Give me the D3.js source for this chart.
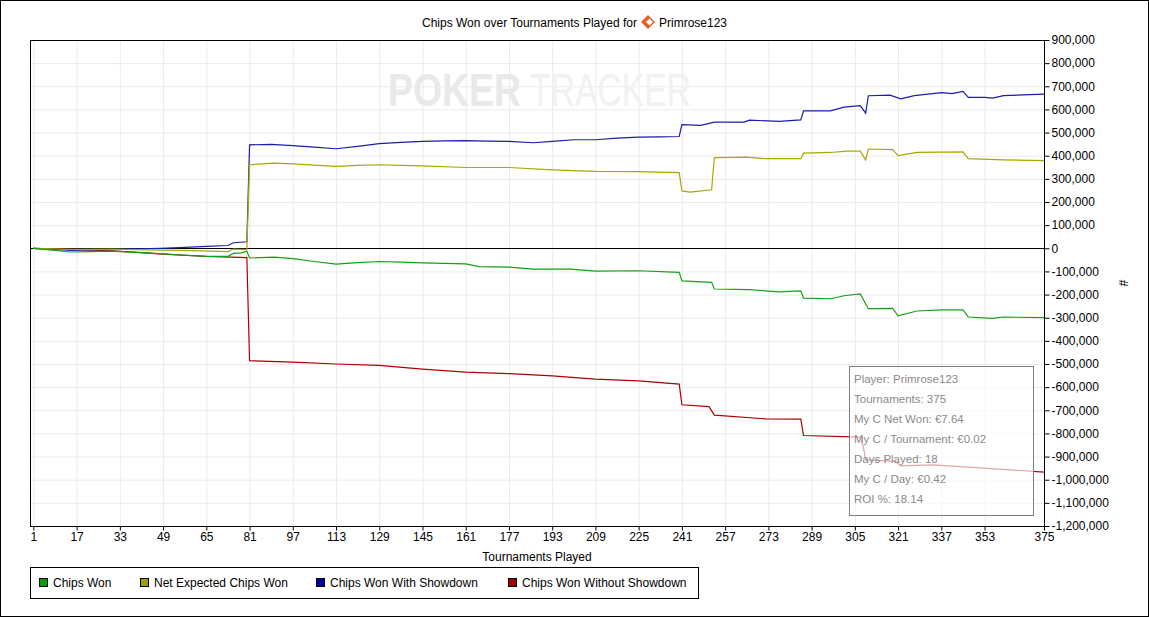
<!DOCTYPE html>
<html>
<head>
<meta charset="utf-8">
<script src="https://cdn.jsdelivr.net/npm/d3@7"></script>
<style>
  body { margin: 0; background: #fff; }
  svg text { font-family: "Liberation Sans", Arial, sans-serif; }
</style>
</head>
<body>
<div id="vis"></div>
<script>
// chart data (tournament #, chips)

const X_TICKS = [1, 17, 33, 49, 65, 81, 97, 113, 129, 145, 161, 177, 193, 209, 225, 241, 257, 273, 289, 305, 321, 337, 353, 375];
const Y_TICKS = [900000, 800000, 700000, 600000, 500000, 400000, 300000, 200000, 100000, 0,
  -100000, -200000, -300000, -400000, -500000, -600000, -700000, -800000, -900000, -1000000, -1100000, -1200000];

const SERIES_NAMES = ["Chips Won", "Net Expected Chips Won", "Chips Won With Showdown", "Chips Won Without Showdown"];

const chipsWon = [[1,0],[8,-8000],[15,-16000],[22,-14000],[29,-12000],[40,-18000],[49,-24000],[57,-30000],[65,-35000],
  [73,-35000],[75,-22000],[78,-20000],[80,-13000],[81,-42000],[90,-38000],[97,-45000],[105,-57000],[113,-68000],[121,-62000],
  [129,-57000],[137,-60000],[145,-63000],[161,-67000],[166,-79000],[177,-81000],[186,-90000],[200,-90000],[209,-99000],
  [225,-97000],[240,-104000],[241,-141000],[252,-147000],[253,-176000],[266,-179000],[277,-188000],[285,-184000],
  [286,-215000],[296,-218000],[301,-205000],[307,-197000],[310,-261000],[319,-260000],[321,-292000],[328,-271000],
  [337,-266000],[345,-266000],[347,-297000],[356,-303000],[360,-297000],[375,-300000]];

const netExpected = [[1,0],[15,-5000],[30,-4000],[49,-8000],[60,-10000],[73,-14000],[75,-4000],[80,-6000],[81,361000],
  [90,368000],[97,365000],[113,354000],[121,358000],[129,361000],[137,358000],[145,356000],[161,349000],[177,349000],
  [193,339000],[209,332000],[225,331000],[240,327000],[241,248000],[244,243000],[252,253000],[253,392000],[265,394000],
  [272,387000],[285,387000],[286,411000],[296,414000],[302,420000],[307,420000],[309,382000],[310,429000],[319,426000],
  [321,400000],[328,414000],[345,417000],[347,387000],[360,382000],[375,379000]];

const withShowdown = [[1,0],[8,-4000],[15,-9000],[25,-6000],[35,-4000],[48,0],[55,3000],[65,8000],[73,12000],[75,24000],
  [80,28000],[81,447000],[89,449000],[97,444000],[105,437000],[113,430000],[121,440000],[129,452000],[137,458000],
  [145,462000],[153,464000],[161,465000],[169,463000],[177,462000],[186,456000],[193,462000],[201,469000],[209,469000],
  [217,476000],[225,480000],[233,481000],[240,483000],[241,534000],[248,531000],[253,545000],[264,545000],[266,554000],
  [277,548000],[285,555000],[286,594000],[296,594000],[301,610000],[307,616000],[309,584000],[310,659000],[318,662000],
  [322,646000],[327,660000],[337,673000],[341,668000],[345,678000],[347,652000],[353,652000],[356,649000],[360,660000],
  [375,666000]];

const withoutShowdown = [[1,0],[15,-5000],[29,-10000],[49,-25000],[65,-35000],[80,-40000],[81,-486000],[97,-492000],
  [113,-500000],[129,-506000],[145,-522000],[161,-535000],[177,-542000],[193,-551000],[209,-565000],[225,-573000],
  [240,-587000],[241,-676000],[251,-684000],[253,-721000],[272,-737000],[285,-738000],[286,-809000],[307,-816000],
  [308,-850000],[309,-914000],[320,-921000],[322,-940000],[334,-936000],[375,-967000]];

const LINE_COLORS = ["#14a014", "#a8a800", "#1c1cad", "#ad0000"];
const SWATCH_COLORS = ["#00a000", "#a0a000", "#0000a0", "#a00000"];

const STATS = ["Player: Primrose123", "Tournaments: 375", "My C Net Won: €7.64", "My C / Tournament: €0.02",
  "Days Played: 18", "My C / Day: €0.42", "ROI %: 18.14"];

const WIDTH = 1149;
const HEIGHT = 617;
const PLOT = {left: 30, right: 1044, top: 40, bottom: 526};

const svg = d3.select("#vis").append("svg")
  .attr("width", WIDTH)
  .attr("height", HEIGHT);

//outer frame
svg.append("rect")
  .attr("x", 0.5).attr("y", 0.5)
  .attr("width", WIDTH - 1).attr("height", HEIGHT - 1)
  .attr("fill", "#fff").attr("stroke", "#000");

const X_SCALE = d3.scaleLinear().domain([-0.25, 375]).range([PLOT.left, PLOT.right]);
const Y_SCALE = d3.scaleLinear().domain([-1200000, 900000]).range([PLOT.bottom, PLOT.top]);

//gridlines
svg.append("g")
  .attr("transform", "translate(0," + PLOT.bottom + ")")
  .call(d3.axisBottom(X_SCALE).tickValues(X_TICKS.filter(d => d < 375)).tickSize(-(PLOT.bottom - PLOT.top)).tickFormat(""))
  .call(g => g.select(".domain").remove())
  .call(g => g.selectAll("line").attr("stroke", "#ebebeb"));

svg.append("g")
  .attr("transform", "translate(" + PLOT.right + ",0)")
  .call(d3.axisRight(Y_SCALE).tickValues(Y_TICKS).tickSize(-(PLOT.right - PLOT.left)).tickFormat(""))
  .call(g => g.select(".domain").remove())
  .call(g => g.selectAll("line").attr("stroke", "#ebebeb"));

//watermark: squeeze each word to its width with a scale
function watermark(word, x, w, weight, color) {
  const t = svg.append("text")
    .attr("font-size", 46).attr("font-weight", weight)
    .attr("fill", color)
    .text(word);
  const sx = w / t.node().getComputedTextLength();
  t.attr("transform", "translate(" + x + ",106) scale(" + sx + ",1)");
}
watermark("POKER", 388, 133, "bold", "#e9e9e9");
watermark("TRACKER", 530, 161, "normal", "#f1f1f1");

//zero line
svg.append("line")
  .attr("x1", PLOT.left).attr("x2", PLOT.right)
  .attr("y1", Math.round(Y_SCALE(0)) + 0.5).attr("y2", Math.round(Y_SCALE(0)) + 0.5)
  .attr("stroke", "#000");

//lines
const line = d3.line()
  .x(d => X_SCALE(d[0]))
  .y(d => Y_SCALE(d[1]));

[withoutShowdown, withShowdown, netExpected, chipsWon].forEach((s, i) => {
  svg.append("path")
    .datum(s)
    .attr("d", line)
    .attr("fill", "none")
    .attr("stroke", LINE_COLORS[3 - i])
    .attr("stroke-width", 1.2);
});

//plot border
svg.append("rect")
  .attr("x", PLOT.left + 0.5).attr("y", PLOT.top + 0.5)
  .attr("width", PLOT.right - PLOT.left).attr("height", PLOT.bottom - PLOT.top)
  .attr("fill", "none").attr("stroke", "#000");

//x axis
const xAxis = svg.append("g")
  .attr("transform", "translate(0," + (PLOT.bottom + 0.5) + ")")
  .call(d3.axisBottom(X_SCALE).tickValues(X_TICKS).tickSize(4).tickSizeOuter(0).tickPadding(2))
  .attr("font-size", 12);
xAxis.select(".domain").remove();
xAxis.selectAll("text").attr("fill", "#000").attr("font-family", "Liberation Sans, Arial, sans-serif");

//y axis on the right
const fmt = d => (d < 0 ? "-" : "") + d3.format(",")(Math.abs(d));
const yAxis = svg.append("g")
  .attr("transform", "translate(" + (PLOT.right + 0.5) + ",0)")
  .call(d3.axisRight(Y_SCALE).tickValues(Y_TICKS).tickFormat(fmt).tickSize(5).tickSizeOuter(0).tickPadding(2))
  .attr("font-size", 12);
yAxis.select(".domain").remove();
yAxis.selectAll("text").attr("fill", "#000").attr("font-family", "Liberation Sans, Arial, sans-serif");

//axis titles
svg.append("text")
  .attr("x", (PLOT.left + PLOT.right) / 2).attr("y", 561)
  .attr("text-anchor", "middle").attr("font-size", 12)
  .text("Tournaments Played");

svg.append("text")
  .attr("transform", "translate(1119,283) rotate(90)")
  .attr("text-anchor", "middle").attr("font-size", 12)
  .text("#");

//title
const title = svg.append("g");
const t1 = title.append("text").attr("font-size", 12).attr("y", 27).text("Chips Won over Tournaments Played for");
const t2 = title.append("text").attr("font-size", 12).attr("y", 27).text("Primrose123");
const w1 = t1.node().getComputedTextLength();
const w2 = t2.node().getComputedTextLength();
const iconW = 22;
const startX = WIDTH / 2 - (w1 + iconW + w2) / 2;
t1.attr("x", startX);
const cx = startX + w1 + 11;
title.append("path")
  .attr("d", `M${cx},${15} L${cx + 7},${22} L${cx},${29} L${cx - 7},${22} Z`)
  .attr("fill", "#f05a23");
title.append("path")
  .attr("d", `M${cx + 1.5},${18.5} L${cx + 5},${22} L${cx + 1.5},${25.5} L${cx - 2},${22} Z`)
  .attr("fill", "#fff");
t2.attr("x", startX + w1 + iconW);

//stats box
svg.append("rect")
  .attr("x", 849.5).attr("y", 366.5)
  .attr("width", 184).attr("height", 149)
  .attr("fill", "#fff").attr("fill-opacity", 0.65)
  .attr("stroke", "#7f7f7f");

svg.selectAll(".stat")
  .data(STATS)
  .enter()
  .append("text")
  .attr("class", "stat")
  .attr("x", 854)
  .attr("y", (d, i) => 382.5 + i * 20)
  .attr("font-size", 11.5)
  .attr("font-family", "Noto Sans, Open Sans, sans-serif")
  .attr("fill", "#8a8a8a")
  .text(d => d);

//legend
svg.append("rect")
  .attr("x", 30.5).attr("y", 567.5)
  .attr("width", 668).attr("height", 31)
  .attr("fill", "#fff").attr("stroke", "#000");

const LEGEND_X = [39.5, 140.5, 316.5, 508.5];
SERIES_NAMES.forEach((name, i) => {
  svg.append("rect")
    .attr("x", LEGEND_X[i]).attr("y", 578.5)
    .attr("width", 8).attr("height", 8)
    .attr("fill", SWATCH_COLORS[i]).attr("stroke", "#000");
  svg.append("text")
    .attr("x", LEGEND_X[i] + 13.5).attr("y", 587)
    .attr("font-size", 12)
    .text(name);
});
</script>
</body>
</html>
